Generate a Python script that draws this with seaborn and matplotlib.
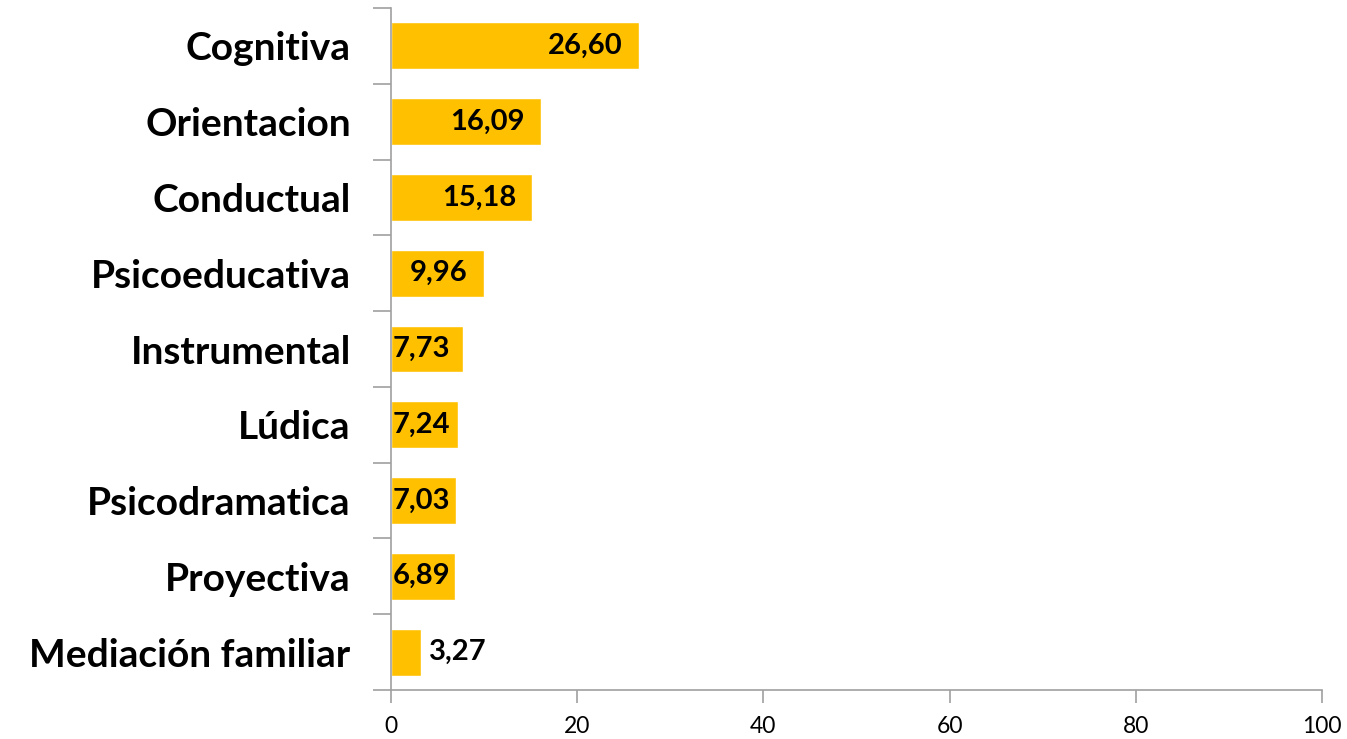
import matplotlib
matplotlib.use("Agg")
import matplotlib.pyplot as plt
import seaborn as sns
import pandas as pd

# Data
categories = ['Cognitiva', 'Orientacion', 'Conductual', 'Psicoeducativa', 'Instrumental',
              'Lúdica', 'Psicodramatica', 'Proyectiva', 'Mediación familiar']
values = [26.60, 16.09, 15.18, 9.96, 7.73, 7.24, 7.03, 6.89, 3.27]
x_ticks = [0, 20, 40, 60, 80, 100]

df = pd.DataFrame({'categoria': categories, 'valor': values})

sns.set_style('white')
plt.rcParams['font.family'] = ['Lato', 'DejaVu Sans']
plt.rcParams['text.color'] = 'black'
plt.rcParams['xtick.color'] = 'black'
plt.rcParams['ytick.color'] = 'black'

fig = plt.figure(figsize=(13.47, 7.39), dpi=100)
ax = fig.add_axes([391 / 1347, 1 - 690 / 739, (1322 - 391) / 1347, (690 - 8) / 739])

sns.barplot(data=df, x='valor', y='categoria', orient='h', color='#FFC000',
            saturation=1, width=0.62, ax=ax)

ax.set_xlim(0, 100)
ax.set_ylim(len(categories) - 0.5, -0.5)
ax.set_xticks(x_ticks)
ax.set_xticklabels([str(t) for t in x_ticks], fontsize=16.5)
ax.set_xlabel('')
ax.set_ylabel('')

# y ticks at category boundaries, labels centred on the bars
ax.set_yticks([i - 0.5 for i in range(len(categories) + 1)], minor=False)
ax.set_yticklabels([])
ax.set_yticks(range(len(categories)), minor=True)
ax.set_yticklabels(categories, minor=True, fontsize=28, fontweight='bold')
ax.tick_params(axis='y', which='minor', left=False, length=0, pad=29)
ax.tick_params(axis='y', which='major', left=True, length=13, width=1.2,
               color='#A0A0A0', direction='out')
ax.tick_params(axis='x', bottom=True, length=9, width=1.2, color='#A0A0A0',
               direction='out', pad=10)

for side in ['top', 'right']:
    ax.spines[side].set_visible(False)
for side in ['left', 'bottom']:
    ax.spines[side].set_color('#A0A0A0')
    ax.spines[side].set_linewidth(1.2)

# value labels: inside end when they fit, otherwise just outside
fig.canvas.draw()
renderer = fig.canvas.get_renderer()
px_per_unit = ax.transData.transform((1, 0))[0] - ax.transData.transform((0, 0))[0]
for i, v in enumerate(values):
    label = f'{v:.2f}'.replace('.', ',')
    t = ax.text(0, i, label, fontsize=21, fontweight='bold', va='center', ha='left')
    w = t.get_window_extent(renderer).width / px_per_unit
    inside_right = v - 16 / px_per_unit
    if inside_right - w >= 2 / px_per_unit:
        t.set_x(inside_right - w)
    elif v - w >= 4 / px_per_unit:
        t.set_x(2 / px_per_unit)
    else:
        t.set_x(v + 8 / px_per_unit)

fig.savefig('out.png', dpi=100)
